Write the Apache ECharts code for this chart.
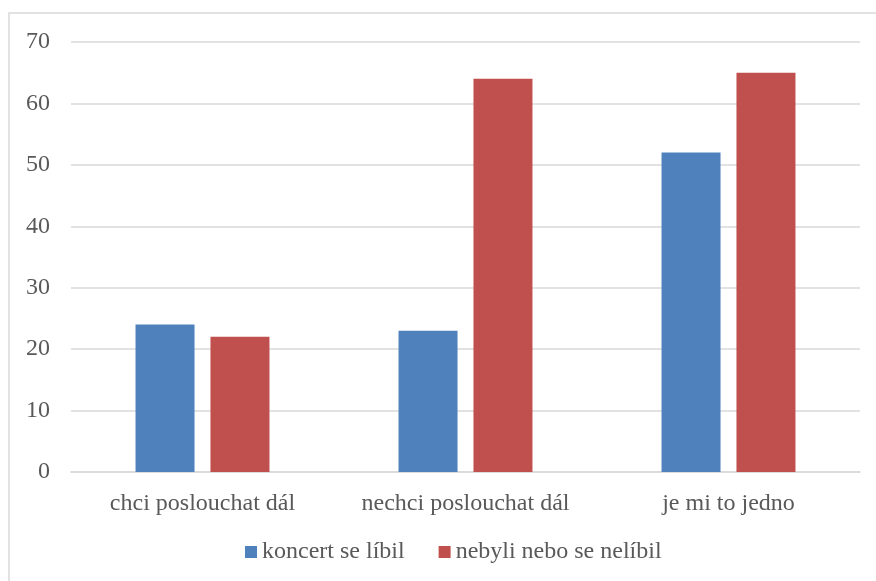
<!DOCTYPE html>
<html>
<head>
<meta charset="utf-8">
<script src="https://cdn.jsdelivr.net/npm/echarts@6/dist/echarts.min.js"></script>
<style>
  html, body { margin: 0; padding: 0; background: #fff; }
  #chart { width: 876px; height: 581px; }
</style>
</head>
<body>
<div id="chart"></div>
<script>
// Survey answers grouped by whether the concert was liked
const categories = ['chci poslouchat dál', 'nechci poslouchat dál', 'je mi to jedno'];
const seriesNames = ['koncert se líbil', 'nebyli nebo se nelíbil'];
const likedValues = [24, 23, 52];
const notLikedValues = [22, 64, 65];
const yTicks = { min: 0, max: 70, interval: 10 };

const FONT = '"Liberation Serif", "Times New Roman", serif';
const TEXT = '#595959';

const chart = echarts.init(document.getElementById('chart'), null, { renderer: 'canvas' });
chart.setOption({
  animation: false,
  backgroundColor: '#ffffff',
  graphic: [{
    type: 'rect',
    shape: { x: 9, y: 13, width: 900, height: 600 },
    style: { fill: 'none', stroke: '#d9d9d9', lineWidth: 1.5 },
    silent: true, z: -1
  }],
  grid: { left: 71, right: 16, top: 42, bottom: 109 },
  legend: {
    bottom: 12,
    left: 240,
    itemWidth: 12,
    itemHeight: 12,
    itemGap: 34,
    icon: 'rect',
    textStyle: { fontFamily: FONT, fontSize: 24, color: TEXT },
    data: seriesNames
  },
  xAxis: {
    type: 'category',
    data: categories,
    axisLine: { lineStyle: { color: '#d9d9d9', width: 1.5 } },
    axisTick: { show: false },
    axisLabel: { fontFamily: FONT, fontSize: 24, color: TEXT, margin: 20, interval: 0 }
  },
  yAxis: {
    type: 'value',
    min: yTicks.min, max: yTicks.max, interval: yTicks.interval,
    axisLine: { show: false },
    axisTick: { show: false },
    splitLine: { lineStyle: { color: '#d9d9d9', width: 1.5 } },
    axisLabel: { fontFamily: FONT, fontSize: 24, color: TEXT, margin: 21 }
  },
  series: [
    {
      name: seriesNames[0], type: 'bar', data: likedValues,
      barWidth: 59, barGap: '27%',
      itemStyle: { color: '#4f81bd' }
    },
    {
      name: seriesNames[1], type: 'bar', data: notLikedValues,
      barWidth: 59, barGap: '27%',
      itemStyle: { color: '#c0504d' }
    }
  ]
});
</script>
</body>
</html>
